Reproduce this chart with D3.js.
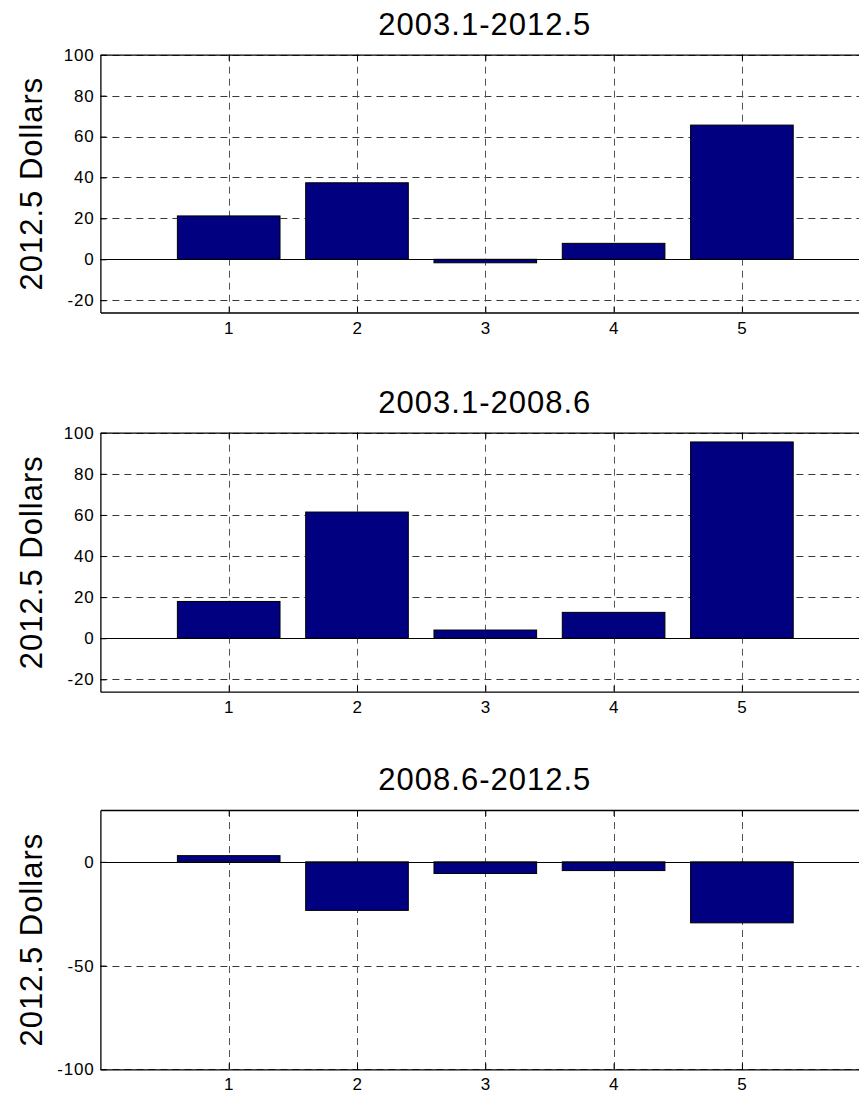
<!DOCTYPE html>
<html>
<head>
<meta charset="utf-8">
<script src="https://cdn.jsdelivr.net/npm/d3@7"></script>
<style>
  html, body { margin: 0; padding: 0; background: #fff; }
  svg { display: block; }
  text { font-family: "Liberation Sans", Arial, Helvetica, sans-serif; fill: #000; }
  .tick text { font-size: 17px; letter-spacing: 0.8px; }
</style>
</head>
<body>
<svg id="chart" width="859" height="1094"></svg>
<script>
// ---- data ----
const categories = [1, 2, 3, 4, 5];
const titles = ["2003.1-2012.5", "2003.1-2008.6", "2008.6-2012.5"];
const values1 = [21.2, 37.4, -1.7, 7.8, 65.6];
const values2 = [17.9, 61.4, 4.0, 12.6, 95.5];
const values3 = [3.0, -23.4, -5.6, -4.2, -29.4];
const yDomains = [[-26, 100], [-26, 100], [-100, 25]];
const yTicks1 = [-20, 0, 20, 40, 60, 80, 100];
const yTicks2 = [-20, 0, 20, 40, 60, 80, 100];
const yTicks3 = [-100, -50, 0];
const xDomain = [0, 6];
const yLabel = "2012.5 Dollars";

const panels = [
  { title: titles[0], values: values1, domain: yDomains[0], ticks: yTicks1, top: 54.7, bottom: 312.5 },
  { title: titles[1], values: values2, domain: yDomains[1], ticks: yTicks2, top: 432.7, bottom: 691.7 },
  { title: titles[2], values: values3, domain: yDomains[2], ticks: yTicks3, top: 810, bottom: 1069.3 }
];

const svg = d3.select("#chart");
const left = 100.4, right = 870.2;
const x = d3.scaleLinear().domain(xDomain).range([left, right]);
const barW = 0.8;
const tickLen = 6;
const fmt = d => String(d); // plain hyphen minus, integers

panels.forEach(p => {
  const y = d3.scaleLinear().domain(p.domain).range([p.bottom, p.top]);
  const g = svg.append("g");

  // grid (dashed)
  const grid = g.append("g").attr("stroke", "#3a3a3a").attr("stroke-width", 1)
    .attr("stroke-dasharray", "7,5").attr("fill", "none");
  grid.selectAll("line.h").data(p.ticks).join("line").attr("class", "h")
    .attr("x1", left).attr("x2", right)
    .attr("y1", d => Math.round(y(d)) + 0.5).attr("y2", d => Math.round(y(d)) + 0.5);
  grid.selectAll("line.v").data(categories).join("line").attr("class", "v")
    .attr("stroke", "#555")
    .attr("x1", d => Math.round(x(d)) + 0.5).attr("x2", d => Math.round(x(d)) + 0.5)
    .attr("y1", p.top).attr("y2", p.bottom);

  // bars
  g.selectAll("rect.bar").data(p.values).join("rect").attr("class", "bar")
    .attr("x", (d, i) => x(categories[i] - barW / 2))
    .attr("width", x(barW) - x(0))
    .attr("y", d => y(Math.max(0, d)))
    .attr("height", d => Math.abs(y(d) - y(0)))
    .attr("fill", "#000080").attr("stroke", "#000").attr("stroke-width", 1);

  // baseline
  g.append("line").attr("x1", left).attr("x2", right)
    .attr("y1", Math.round(y(0)) + 0.5).attr("y2", Math.round(y(0)) + 0.5)
    .attr("stroke", "#000").attr("stroke-width", 1);

  // axes (inward ticks)
  const axB = d3.axisBottom(x).tickValues(categories).tickFormat(fmt).tickSizeInner(-tickLen).tickSizeOuter(0).tickPadding(9);
  const gb = g.append("g").attr("transform", `translate(0,${p.bottom})`).call(axB);
  const axT = d3.axisTop(x).tickValues(categories).tickSizeInner(-tickLen).tickSizeOuter(0).tickFormat("");
  const gt = g.append("g").attr("transform", `translate(0,${p.top})`).call(axT);
  const axL = d3.axisLeft(y).tickValues(p.ticks).tickFormat(fmt).tickSizeInner(-tickLen).tickSizeOuter(0).tickPadding(6);
  const gl = g.append("g").attr("transform", `translate(${left},0)`).call(axL);
  const axR = d3.axisRight(y).tickValues(p.ticks).tickSizeInner(-tickLen).tickSizeOuter(0).tickFormat("");
  const gr = g.append("g").attr("transform", `translate(${right},0)`).call(axR);

  [gb, gt, gl, gr].forEach(a => {
    a.attr("font-size", 17).attr("font-family", "Liberation Sans, Arial, sans-serif");
    a.select(".domain").attr("stroke", "#000").attr("stroke-width", 1.3);
    a.selectAll(".tick line").attr("stroke", "#000");
    a.selectAll(".tick text").attr("fill", "#000");
  });
  gb.selectAll(".tick text").attr("dy", "0.71em");

  // title
  svg.append("text").attr("x", (left + right) / 2 - 0.5).attr("y", p.top - 20)
    .attr("text-anchor", "middle").attr("font-size", 31).attr("letter-spacing", "1px")
    .text(p.title);

  // y label
  const cy = (p.top + p.bottom) / 2;
  svg.append("text").attr("transform", `translate(42,${cy}) rotate(-90)`)
    .attr("text-anchor", "middle").attr("font-size", 31).attr("letter-spacing", "1px")
    .text(yLabel);
});
</script>
</body>
</html>
